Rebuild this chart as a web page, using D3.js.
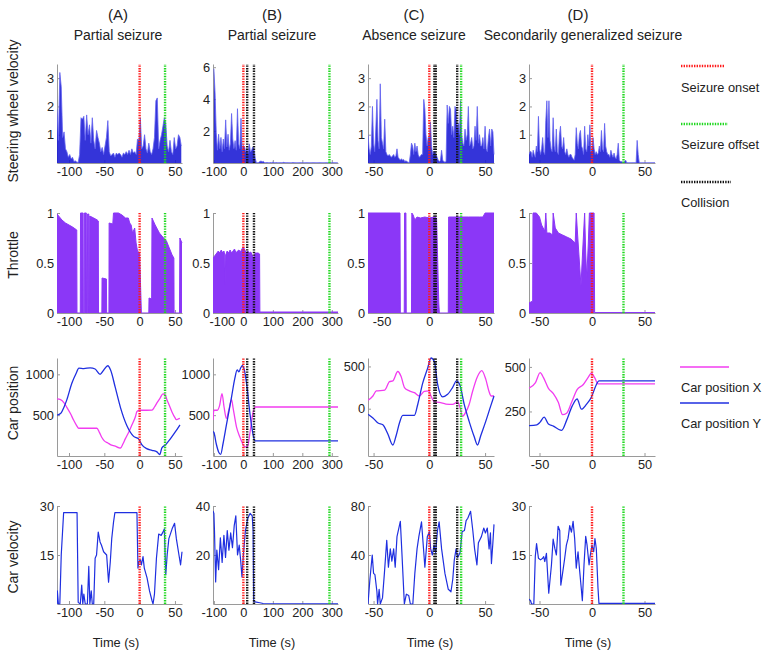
<!DOCTYPE html>
<html><head><meta charset="utf-8">
<script src="https://cdn.jsdelivr.net/npm/d3@7"></script>
<style>
body{margin:0;background:#fff}
svg{display:block}
text{font-family:"Liberation Sans",Arial,Helvetica,sans-serif;fill:#222}
</style>
</head><body>
<svg id="c" width="764" height="655"></svg>
<script>
// ---------------- DATA ----------------
const panelLetters = ["(A)", "(B)", "(C)", "(D)"];
const seizureTypes = ["Partial seizure", "Partial seizure", "Absence seizure", "Secondarily generalized seizure"];
const rowLabels = ["Steering wheel velocity", "Throttle", "Car position", "Car velocity"];
const xLabel = "Time (s)";
const xDomains = [[-117, 60], [-103, 321], [-55, 58], [-60, 60]];
const xTicks = [[-100, -50, 0, 50], [-100, 0, 100, 200, 300], [-50, 0, 50], [-50, 0, 50]];

const seizureOnset = [0, 0, 0, 0];
const seizureOffset = [36, 292, 28.5, 30];
const collisions = [[], [13, 36], [4.5, 5.8, 25], []];

// Steering wheel velocity (uniformly sampled)
const steerStart = [-117, -100, -55, -60];
const steerStep = [2, 4, 1, 1];
const steerA = [1.9,0.8,3.2,2.7,0.9,1.1,0.5,0.4,0.2,0.3,
  0.15,0.2,0.05,0.08,0.03,0.02,0.3,1.6,1.55,1.65,
  0.8,1.7,1.0,1.35,0.7,1.6,0.8,0.5,1.15,0.9,
  0.7,0.4,0.55,0.3,0.6,0.9,1.5,0.4,0.25,0.3,
  0.35,0.2,0.35,0.3,0.35,0.3,0.2,0.35,0.3,0.4,
  0.3,0.45,0.3,0.5,0.35,0.4,0.3,0.85,0.8,1.6,
  0.5,0.6,1.0,0.5,0.35,0.7,0.4,0.3,0.5,0.9,
  2.2,2.3,0.5,0.8,1.0,1.3,1.6,1.4,0.6,0.4,
  0.8,0.4,0.3,0.9,0.5,0.6,1.0,0.9,0.6];
const steerB = [5.9,4.4,1.9,0.8,1.8,0.9,1.6,0.7,1.5,0.9,
  2.7,1.0,1.8,0.8,1.2,3.1,1.5,0.9,1.4,0.8,
  3.4,1.2,0.9,2.8,0.8,1.1,1.0,0.7,0.9,0.6,
  1.2,0.7,0.8,1.0,0.9,0.3,0.03,0.02,0.03,0.1,
  0.12,0.08,0.1,0.03,0.02,0.03,0.02,0.02,0.03,0.02,
  0.05,0.02,0.02,0.03,0.02,0.02,0.02,0.02,0.02,0.04,
  0.03,0.02,0.02,0.02,0.02,0.02,0.02,0.03,0.02,0.02,
  0.02,0.02,0.02,0.02,0.02,0.02,0.02,0.02,0.02,0.02,
  0.02,0.02,0.02,0.02,0.02,0.02,0.02,0.02,0.02,0.02,
  0.02,0.02,0.02,0.02,0.02,0.02,0.02,0.02,0.02,0.02,
  0.02,0.02,0.02,0.02,0.02,0.02];
const steerC = [1.0,0.5,0.3,0.6,2.0,0.7,0.4,1.2,2.25,0.8,
  0.5,2.8,0.9,0.7,0.5,1.55,0.4,0.3,0.25,0.3,
  0.25,0.2,0.25,0.3,0.2,0.25,0.5,0.2,0.15,0.1,
  0.15,0.1,0.12,0.05,0.08,0.05,0.02,0.02,0.3,0.7,
  0.6,0.3,0.7,0.4,0.6,0.3,0.2,0.25,0.3,0.3,
  2.25,1.9,1.0,0.6,0.9,0.9,1.45,0.6,0.3,0.4,
  0.4,0.3,0.2,0.1,0.05,0.1,0.45,0.1,0.05,0.03,
  0.05,2.05,1.4,2.0,1.9,1.0,1.3,0.9,2.0,1.9,
  1.2,1.4,1.0,2.2,1.0,0.7,0.6,1.2,0.8,1.0,
  2.0,0.6,0.7,0.9,0.5,0.6,1.3,0.8,2.0,0.7,
  1.0,0.6,0.6,0.9,0.5,1.3,0.5,0.4,0.9,1.2,
  0.6,1.2,1.1,0.3];
const steerD = [0.3,0.4,0.4,0.2,0.45,0.3,0.2,0.6,0.4,1.65,
  0.5,0.3,0.5,0.9,0.4,0.3,1.5,2.2,0.9,2.2,
  0.8,0.5,0.4,1.6,0.6,0.4,1.2,0.4,0.3,1.0,
  1.3,0.6,0.5,0.9,0.4,0.3,0.5,0.3,0.2,0.3,
  0.3,0.2,0.15,0.1,0.3,1.25,0.7,0.5,1.0,1.15,
  0.6,0.5,0.3,1.3,0.5,0.4,1.0,0.6,1.35,0.4,
  0.5,0.9,0.5,0.3,0.4,0.3,0.35,0.6,0.4,1.15,
  0.5,0.4,1.4,0.6,0.4,0.3,0.3,0.2,0.45,0.3,
  0.2,0.35,0.2,0.15,0.3,0.7,0.1,0.05,0.05,0.03,
  0.02,0.05,0.1,0.02,0.01,0.01,0.01,0.01,0.01,0.01,
  0.01,0.01,0.01,0.8,0.3,0.02,0.01,0.01,0.01,0.01,
  0.01,0.01,0.01,0.01,0.01,0.01,0.01,0.01,0.01,0.01,
  0.01];
const steerYDomain = [[0, 3.5], [0, 6.2], [0, 3.5], [0, 3.5]];
const steerYTicks = [[1, 2, 3], [2, 4, 6], [1, 2, 3], [1, 2, 3]];

// Throttle ([time, value])
const throttleA = [[-117,0.99],[-110,0.93],[-105,0.9],[-100,0.88],[-95,0.86],[-89,0.83],[-88.7,0],[-84,0],[-83.7,1.0],[-80,1.0],[-79.7,0],[-78.5,0],[-78.2,1.0],[-75.5,1.0],[-75.2,0],[-74,0],[-73.7,0.99],[-72,0.99],[-71.7,0],[-71,0],[-70.7,0.97],[-65,0.95],[-60,0.93],[-58.5,0.92],[-58.2,0],[-53.5,0],[-53.2,0.35],[-47,0.34],[-46.7,0],[-43.5,0],[-43.2,0.9],[-38,0.89],[-37,1.0],[-30,1.0],[-25,0.98],[-20,0.95],[-16,0.95],[-14,0.9],[-12,0.88],[-10,0.8],[-7,0.85],[-5,0.7],[-3,0.62],[0,0.6],[1,0.35],[2.5,0],[13,0],[13.3,0.15],[17,0.14],[17.5,0.95],[22,0.88],[28,0.8],[34,0.75],[38,0.72],[42,0.65],[46,0.58],[48.5,0.55],[48.8,0],[56.5,0],[57,0.75],[60,0.7]];
const throttleB = [[-103,0.55],[-95,0.58],[-90,0.6],[-85,0.62],[-80,0.6],[-75,0.63],[-70,0.6],[-66,0.62],[-63,0.58],[-61.5,0.28],[-60,0.58],[-55,0.62],[-50,0.6],[-45,0.63],[-40,0.6],[-35,0.62],[-30,0.64],[-25,0.6],[-20,0.62],[-15,0.63],[-10,0.61],[-5,0.64],[0,0.66],[5,0.63],[10,0.6],[15,0.62],[20,0.6],[25,0.61],[30,0.58],[35,0.55],[40,0.6],[45,0.6],[50,0.6],[55,0.59],[56,0.01],[321,0.01]];
const throttleC = [[-55,1],[-26.3,1],[-26,0],[-22.5,0],[-22.2,1],[-21,1],[-20.7,0],[-16,0],[-15.7,1],[-14.5,0.98],[-13,0.93],[-11,0.96],[-8,0.95],[-4,0.96],[0,0.95],[4,0.96],[6.5,0.95],[8.5,0.1],[9,0],[17,0],[17.3,0.96],[25,0.96],[35,0.96],[45,0.96],[48,0.96],[50,1],[58,1]];
const throttleD = [[-60,0.1],[-56.5,0.12],[-56.2,1.0],[-53,1.0],[-50,0.96],[-48,0.88],[-45,0.82],[-44,1.0],[-43,0.8],[-40,0.8],[-37.5,0.78],[-37,1.0],[-35,0.85],[-32,0.8],[-28,0.78],[-24,0.76],[-20,0.74],[-16,0.7],[-15,1.0],[-13.5,0.75],[-10.5,0.27],[-9,0.6],[-7,1.0],[-6,0.6],[-5,0.35],[-3.5,0.7],[-2.5,1.0],[2,1.0],[2.5,0.005],[60,0.005]];
const throttleYTicks = [0, 0.5, 1];

// Car position X / Y ([time, value])
const posAX = [[-117,700],[-112,690],[-107,650],[-103,595],[-98,520],[-93.5,440],[-89,370],[-86.4,340],[-75,340],[-60.5,340],[-57,290],[-53,220],[-50,185],[-45,160],[-41.5,140],[-34.5,120],[-29,100],[-27,98],[-23.5,150],[-20.3,210],[-15,300],[-11,380],[-6,480],[-3.8,545],[0,560],[10,560],[17.5,562],[21,600],[24.5,650],[29,710],[33,760],[36,750],[38.7,690],[42,620],[45.8,540],[50,470],[52,445],[55,455],[57,460]];
const posAY = [[-117,500],[-112,520],[-107,600],[-103,690],[-96,890],[-90,1010],[-86,1075],[-79,1070],[-70,1080],[-63,1065],[-56,1000],[-51,1050],[-45,1105],[-41,1050],[-34.5,840],[-27,590],[-18,370],[-8.5,240],[-1.5,210],[3,140],[10,90],[17.5,70],[24.5,50],[28.5,18],[31.5,100],[36.5,135],[43.5,210],[50.5,295],[57,380]];
const posBX = [[-103,440],[-100,560],[-88.5,560],[-80.5,620],[-72.5,765],[-65.5,600],[-57.5,460],[-49.5,560],[-40,690],[-34.5,580],[-23,350],[-11.5,230],[-3.5,160],[5.5,110],[14,115],[23,300],[31,500],[40,600],[321,600]];
const posBY = [[-103,300],[-100,290],[-92,150],[-84,50],[-77,20],[-69,150],[-57.5,380],[-40,725],[-29,950],[-21,1055],[-15,1030],[-9,1080],[-3.5,1105],[3.5,1050],[11.5,870],[23,500],[34.5,235],[40,185],[321,185]];
const posCX = [[-55,100],[-50.6,150],[-47.6,210],[-40,220],[-35.7,320],[-32.7,330],[-28.3,440],[-25.3,380],[-22.3,250],[-17.9,210],[-13.4,190],[-8.9,150],[-4.5,205],[-0.6,210],[1.5,150],[4.5,80],[8.9,75],[14.9,55],[20.8,50],[25.3,80],[27.4,20],[29.8,-90],[32.7,-40],[35.7,50],[38.7,200],[43.2,380],[47,450],[50.6,350],[53.6,200],[55.5,150],[58,150]];
const posCY = [[-55,-65],[-50.6,-110],[-46,-170],[-41.7,-190],[-37.2,-300],[-32.7,-430],[-29.8,-320],[-26.8,-170],[-23.8,-80],[-13.4,-80],[-10.4,50],[-6,300],[-1.5,480],[1.5,600],[4.5,560],[7.4,290],[11.9,140],[16.4,170],[20.8,250],[24.4,330],[27.4,280],[31.3,50],[35.7,-150],[40.2,-330],[43.2,-430],[46.1,-320],[50.6,-150],[55,30],[58,150]];
const posDX = [[-60,380],[-54,410],[-49.4,468],[-46.2,440],[-41.5,380],[-36.8,350],[-32,300],[-28,232],[-24.2,240],[-19.5,300],[-14.2,372],[-8.5,400],[-3.8,440],[-0.6,465],[2.5,440],[5.7,405],[60,405]];
const posDY = [[-60,170],[-52.5,175],[-49.4,190],[-45.6,218],[-41.5,180],[-36.8,168],[-32,150],[-28.9,144],[-24.2,200],[-18.9,280],[-14.2,320],[-10,263],[-5.3,290],[-0.6,330],[4.1,400],[6.6,422],[60,422]];
const posYDomain = [[0, 1200], [0, 1200], [-560, 600], [0, 550]];
const posYTicks = [[500, 1000], [500, 1000], [0, 500], [250, 500]];

// Car velocity ([time, value])
const velA = [[-117,0],[-116.5,4],[-115,0],[-113,0],[-111,15],[-107.6,28],[-88.6,28],[-87,0.5],[-84,0],[-82,5.8],[-80.5,0],[-79,3],[-77,0],[-74,0],[-72,11.5],[-70.5,0],[-68.5,4],[-67,0],[-65,0],[-63,14],[-61,15],[-58.6,22],[-56,19],[-54,18],[-51,16],[-46.7,15],[-44,6.7],[-41.5,13],[-39.5,20],[-37,25],[-35,28],[-3.8,28],[-2.4,11],[-1,13],[1,13.5],[2.5,12],[4.8,14.5],[6.6,11],[10.5,8],[14,4],[17.6,1],[19,0],[21,3],[23.8,14],[27,21.4],[30.5,21],[33,22],[35,23],[37,9],[39,15],[41.4,20],[46,23],[49.5,24.7],[52,20],[55.7,15],[58,12],[60,16]];
const velB = [[-103,38],[-100,37],[-98,30],[-94,9],[-90,22],[-84,14],[-78,27],[-72,17],[-66,28],[-60.5,19],[-54.6,30],[-49,22],[-43,29],[-37,23],[-31,32],[-25.6,36],[-19.8,20],[-14,24],[-9.3,18],[-4.7,11],[0,20],[7,30],[15,35],[23,37],[30,36],[33,30],[35,1],[44,0.8],[56,0.5],[67,0.2],[321,0.1]];
const velC = [[-55,0],[-53.3,20],[-51.2,40],[-50,25],[-48.8,24],[-47,10],[-46.4,0],[-45,12],[-44,0],[-42,5],[-40.3,25],[-38.2,52],[-36.7,30],[-35,45],[-33.6,35],[-32,45],[-30.6,30],[-29,55],[-26,67.5],[-24.5,40],[-22.4,0],[-20.6,8],[-18.5,7],[-17,0],[-14.8,0],[-13,25],[-11,45],[-9.4,55],[-7,67],[-4.8,40],[-4,30],[-1.8,55],[0,59],[1.2,45],[2.7,40],[4.2,48],[5.7,42],[7.3,60],[8.8,67],[11,45],[14,25],[17,12],[19.4,10],[21,20],[22.4,36],[24,45],[25.4,38],[27.6,42],[29.4,59],[31.5,60],[33,68],[34.5,70],[37,75.7],[39,60],[40.6,45],[42.7,32],[44,50],[46.7,55],[48.8,62],[50.3,58],[52,62],[53.6,45],[54.8,58],[55.7,33],[57,50],[58,65]];
const velD = [[-60,1.5],[-58.5,1],[-57.6,0],[-55.4,0],[-54,14.6],[-52.8,18.5],[-51,14],[-49,13.5],[-47,14],[-46,14.5],[-45,13],[-43.4,15.5],[-41.2,3.3],[-38.6,12],[-37,19.9],[-35.4,17],[-33.9,15],[-32.3,23.8],[-30.7,22.5],[-29.7,5.8],[-28.2,9],[-26,14],[-24.4,18],[-22.8,20],[-21.2,24],[-19.6,22],[-18,25.3],[-16.5,20],[-15,11],[-13.3,16],[-11.7,10],[-10,4],[-9.2,1],[-7.6,12],[-6,20.7],[-4.7,18],[-2.8,12],[-1.6,15],[0,18],[1.6,16],[2.8,20],[4.1,17],[5.7,5],[6.6,0.2],[60,0.2]];
const velYDomain = [[0, 30], [0, 40], [0, 80], [0, 30]];
const velYTicks = [[15, 30], [20, 40], [40, 80], [15, 30]];

const legendMarkers = ["Seizure onset", "Seizure offset", "Collision"];
const legendPosition = ["Car position X", "Car position Y"];

// ---------------- LAYOUT / STYLE ----------------
const C_RED = "#ff1a1a", C_GREEN = "#1fd81f", C_BLACK = "#111";
const C_BLUE = "#1f2fe0", C_MAG = "#f23cf0", C_PURPLE = "#8b37f7", C_STEER = "#1818d4";
const colX = [[57, 182], [213, 338], [368, 494], [529, 655]];
const rowY = [[64, 163], [213, 313], [358, 456], [506, 604]];

const svg = d3.select("#c");
const defs = svg.append("defs");

function markers(g, x, y, col) {
  const [y0, y1] = y.range();
  const lines = [];
  lines.push({t: seizureOnset[col], c: C_RED});
  collisions[col].forEach(t => lines.push({t, c: C_BLACK}));
  lines.push({t: seizureOffset[col], c: C_GREEN});
  g.selectAll(null).data(lines).enter().append("line")
    .attr("x1", d => x(d.t)).attr("x2", d => x(d.t))
    .attr("y1", y0).attr("y2", y1)
    .attr("stroke", d => d.c).attr("stroke-width", 2.4)
    .attr("stroke-dasharray", "1.4,1.2");
}

function panel(row, col, yDomain, yTicks, draw) {
  const x = d3.scaleLinear().domain(xDomains[col]).range(colX[col]);
  const y = d3.scaleLinear().domain(yDomain).range([rowY[row][1], rowY[row][0]]);
  const g = svg.append("g");
  const clipId = `clip${row}_${col}`;
  defs.append("clipPath").attr("id", clipId).append("rect")
    .attr("x", colX[col][0]).attr("y", rowY[row][0] - 1)
    .attr("width", colX[col][1] - colX[col][0] + 1)
    .attr("height", rowY[row][1] - rowY[row][0] + 1.5);

  const xa = g.append("g").attr("transform", `translate(0,${rowY[row][1]})`)
    .call(d3.axisBottom(x).tickValues(xTicks[col]).tickFormat(d => String(d))
      .tickSizeInner(-3).tickSizeOuter(0).tickPadding(4));
  const ya = g.append("g").attr("transform", `translate(${colX[col][0]},0)`)
    .call(d3.axisLeft(y).tickValues(yTicks).tickFormat(d => String(d))
      .tickSizeInner(-3).tickSizeOuter(0).tickPadding(3));
  [xa, ya].forEach(a => {
    a.select(".domain").attr("stroke", "#9a9a9a").attr("stroke-width", 1);
    a.selectAll(".tick line").attr("stroke", "#9a9a9a");
    a.selectAll(".tick text").attr("font-size", 12.8).attr("fill", "#333")
      .attr("font-family", '"Liberation Sans",Arial,sans-serif');
  });
  // when a y tick at 0 sits next to the first x tick label, nudge it right as in the reference
  if (yTicks.includes(0) && yDomain[0] === 0) {
    const first = xTicks[col][0];
    if (x(first) - colX[col][0] < 8) {
      xa.selectAll(".tick text").filter(d => d === first).attr("dx", 8);
    }
  }
  const dg = g.append("g").attr("clip-path", `url(#${clipId})`);
  draw(dg, x, y);
  markers(dg, x, y, col);
}

// Row 1: steering wheel velocity
const steerSeries = [steerA, steerB, steerC, steerD];
steerSeries.forEach((vals, col) => {
  panel(0, col, steerYDomain[col], steerYTicks[col], (g, x, y) => {
    const data = vals.map((v, i) => [steerStart[col] + i * steerStep[col], v]);
    g.append("path").datum(data)
      .attr("d", d3.area().x(d => x(d[0])).y0(y(0)).y1(d => y(d[1])))
      .attr("fill", C_STEER).attr("fill-opacity", 0.88);
    g.append("path").datum(data)
      .attr("d", d3.line().x(d => x(d[0])).y(d => y(d[1])))
      .attr("fill", "none").attr("stroke", "#6262f0").attr("stroke-width", 0.8);
  });
});

// Row 2: throttle
[throttleA, throttleB, throttleC, throttleD].forEach((data, col) => {
  panel(1, col, [0, 1], throttleYTicks, (g, x, y) => {
    g.append("path").datum(data)
      .attr("d", d3.area().x(d => x(d[0])).y0(y(0)).y1(d => y(d[1])))
      .attr("fill", C_PURPLE);
    g.append("path").datum(data)
      .attr("d", d3.line().x(d => x(d[0])).y(d => y(d[1])))
      .attr("fill", "none").attr("stroke", C_PURPLE).attr("stroke-width", 1);
  });
});

// Row 3: car position
const posX = [posAX, posBX, posCX, posDX];
const posY = [posAY, posBY, posCY, posDY];
for (let col = 0; col < 4; col++) {
  panel(2, col, posYDomain[col], posYTicks[col], (g, x, y) => {
    const line = d3.line().x(d => x(d[0])).y(d => y(d[1])).curve(d3.curveMonotoneX);
    g.append("path").datum(posX[col]).attr("d", line)
      .attr("fill", "none").attr("stroke", C_MAG).attr("stroke-width", 1.3);
    g.append("path").datum(posY[col]).attr("d", line)
      .attr("fill", "none").attr("stroke", C_BLUE).attr("stroke-width", 1.3);
  });
}

// Row 4: car velocity
[velA, velB, velC, velD].forEach((data, col) => {
  panel(3, col, velYDomain[col], velYTicks[col], (g, x, y) => {
    g.append("path").datum(data)
      .attr("d", d3.line().x(d => x(d[0])).y(d => y(d[1])))
      .attr("fill", "none").attr("stroke", C_BLUE).attr("stroke-width", 1.2)
      .attr("stroke-linejoin", "round");
  });
});

// Titles
const letterX = [118, 272, 414, 578];
const typeX = [118, 272, 414, 583];
panelLetters.forEach((t, i) => svg.append("text").attr("x", letterX[i]).attr("y", 14)
  .attr("text-anchor", "middle").attr("dominant-baseline", "central")
  .attr("font-size", 15).text(t));
seizureTypes.forEach((t, i) => svg.append("text").attr("x", typeX[i]).attr("y", 35)
  .attr("text-anchor", "middle").attr("dominant-baseline", "central")
  .attr("font-size", 14).text(t));

// Row labels
const rowLabelY = [111, 255, 403, 557];
rowLabels.forEach((t, i) => svg.append("text")
  .attr("transform", `translate(13,${rowLabelY[i]}) rotate(-90)`)
  .attr("text-anchor", "middle").attr("dominant-baseline", "central")
  .attr("font-size", 14).text(t));

// X labels
const timeX = [116, 272, 430, 588];
timeX.forEach(xx => svg.append("text").attr("x", xx).attr("y", 642)
  .attr("text-anchor", "middle").attr("dominant-baseline", "central")
  .attr("font-size", 12.8).text(xLabel));

// Legends
const lg = svg.append("g");
const legMk = [{c: C_RED, y: 66, len: 43, ty: 87}, {c: C_GREEN, y: 124, len: 47, ty: 144}, {c: C_BLACK, y: 182, len: 50, ty: 202}];
legMk.forEach((m, i) => {
  lg.append("line").attr("x1", 681).attr("x2", 681 + m.len).attr("y1", m.y).attr("y2", m.y)
    .attr("stroke", m.c).attr("stroke-width", 2.4).attr("stroke-dasharray", "1.4,1.2");
  lg.append("text").attr("x", 681).attr("y", m.ty).attr("dominant-baseline", "central")
    .attr("font-size", 12.8).text(legendMarkers[i]);
});
const legPos = [{c: C_MAG, y: 367, ty: 387}, {c: C_BLUE, y: 403, ty: 423}];
legPos.forEach((m, i) => {
  lg.append("line").attr("x1", 680).attr("x2", 729).attr("y1", m.y).attr("y2", m.y)
    .attr("stroke", m.c).attr("stroke-width", 1.3);
  lg.append("text").attr("x", 681).attr("y", m.ty).attr("dominant-baseline", "central")
    .attr("font-size", 12.8).text(legendPosition[i]);
});
</script>
</body></html>
